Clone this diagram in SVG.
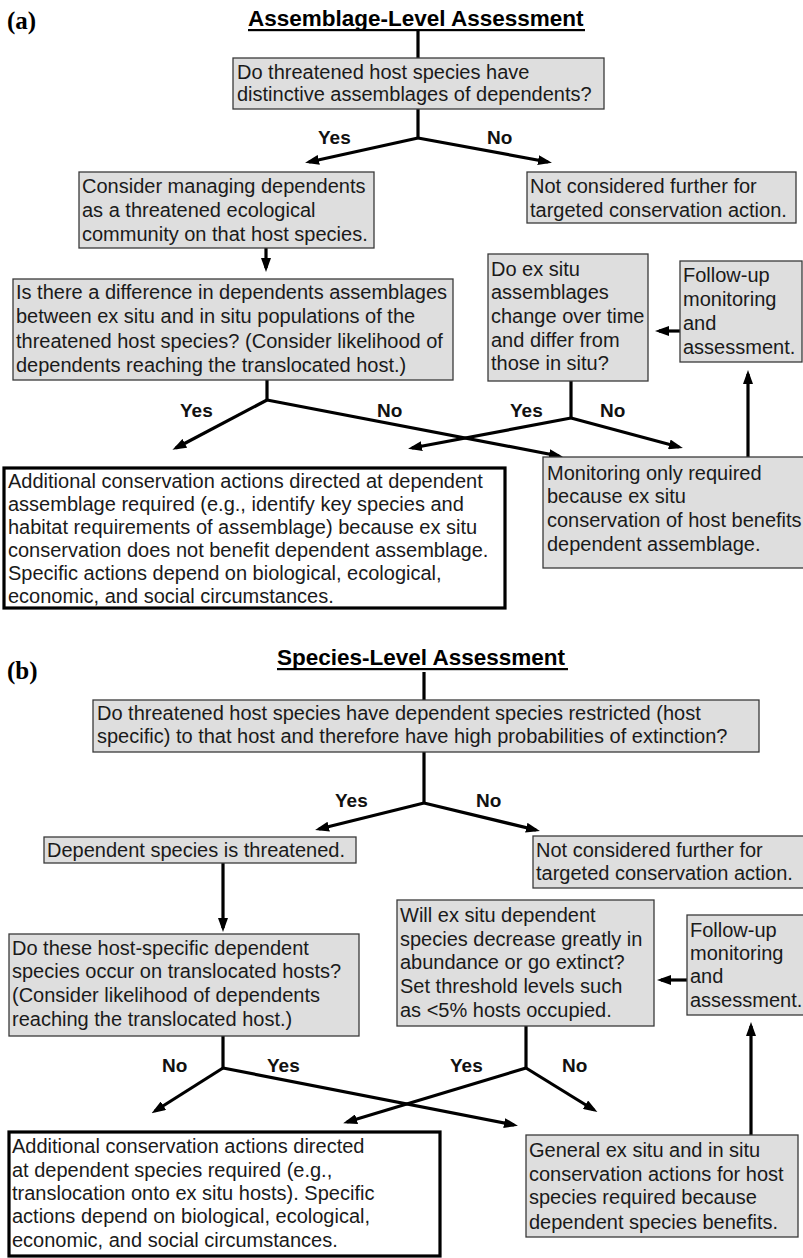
<svg xmlns="http://www.w3.org/2000/svg" width="803" height="1258" viewBox="0 0 803 1258">
<style>
.bg{fill:#fff}
.box{fill:#dedede;stroke:#3a3a3a;stroke-width:1.3}
.tbox{fill:#fff;stroke:#000;stroke-width:3.2}
.t{font-family:"Liberation Sans",Arial,sans-serif;font-size:20px;fill:#1a1a1a}
.lbl{font-family:"Liberation Sans",Arial,sans-serif;font-size:19px;font-weight:bold;fill:#111}
.ttl{font-family:"Liberation Sans",Arial,sans-serif;font-size:22.5px;font-weight:bold;fill:#000}
.pl{font-family:"Liberation Serif","Times New Roman",serif;font-size:25px;font-weight:bold;fill:#000}
.c{fill:none;stroke:#000;stroke-width:3.2}
.a{marker-end:url(#ah)}
</style>
<defs>
<marker id="ah" viewBox="0 0 14 10" refX="10" refY="5" markerWidth="14" markerHeight="10" markerUnits="userSpaceOnUse" orient="auto">
<path d="M0,0 L14,5 L0,10 z" fill="#000"/>
</marker>
</defs>
<rect class="bg" x="0" y="0" width="803" height="1258"/>

<g id="panel-labels">
<text class="pl" x="7" y="29">(a)</text>
<text class="pl" x="7" y="679">(b)</text>
</g>

<g id="title-a">
<text class="ttl" x="248" y="26">Assemblage-Level Assessment</text>
<rect x="248" y="29" width="337" height="2.2" fill="#000"/>
</g>
<g id="title-b">
<text class="ttl" x="277" y="665">Species-Level Assessment</text>
<rect x="277" y="668" width="291" height="2.2" fill="#000"/>
</g>

<g id="connectors">
<!-- panel a -->
<path class="c" d="M418,31 V58"/>
<path class="c" d="M418,109 V138"/>
<path class="c a" d="M418,138 L309,162"/>
<path class="c a" d="M418,138 L548,162"/>
<path class="c a" d="M266,248 V268"/>
<path class="c" d="M267,380 V400"/>
<path class="c a" d="M267,400 L176,448"/>
<path class="c a" d="M267,400 L559,456"/>
<path class="c" d="M571,381 V418"/>
<path class="c a" d="M571,418 L412,448"/>
<path class="c a" d="M571,418 L679,447"/>
<path class="c a" d="M680,331 H659"/>
<path class="c a" d="M748,457 V374"/>
<!-- panel b -->
<path class="c" d="M424,672 V700"/>
<path class="c" d="M424,752 V803"/>
<path class="c a" d="M424,803 L319,829"/>
<path class="c a" d="M424,803 L536,830"/>
<path class="c a" d="M223,863 V928"/>
<path class="c" d="M223,1036 V1068"/>
<path class="c a" d="M223,1068 L155,1111"/>
<path class="c a" d="M223,1068 L514,1125"/>
<path class="c" d="M526,1026 V1068"/>
<path class="c a" d="M526,1068 L347,1122"/>
<path class="c a" d="M526,1068 L594,1110"/>
<path class="c a" d="M687,980 H661"/>
<path class="c a" d="M751,1135 V1026"/>
</g>

<g id="labels">
<text class="lbl" x="318" y="144">Yes</text>
<text class="lbl" x="487" y="144">No</text>
<text class="lbl" x="180" y="417">Yes</text>
<text class="lbl" x="377" y="417">No</text>
<text class="lbl" x="510" y="417">Yes</text>
<text class="lbl" x="600" y="417">No</text>
<text class="lbl" x="335" y="807">Yes</text>
<text class="lbl" x="476" y="807">No</text>
<text class="lbl" x="162" y="1072">No</text>
<text class="lbl" x="267" y="1072">Yes</text>
<text class="lbl" x="450" y="1072">Yes</text>
<text class="lbl" x="562" y="1072">No</text>
</g>

<g id="a-q1">
<rect class="box" x="233" y="58" width="371" height="51"/>
<text class="t" x="237" y="79">Do threatened host species have</text>
<text class="t" x="237" y="101">distinctive assemblages of dependents?</text>
</g>
<g id="a-notconsidered">
<rect class="box" x="527" y="172" width="269" height="51"/>
<text class="t" x="530" y="193">Not considered further for</text>
<text class="t" x="530" y="217">targeted conservation action.</text>
</g>
<g id="a-consider">
<rect class="box" x="79" y="172" width="295" height="76"/>
<text class="t" x="82" y="193">Consider managing dependents</text>
<text class="t" x="82" y="217">as a threatened ecological</text>
<text class="t" x="82" y="241">community on that host species.</text>
</g>
<g id="a-q2">
<rect class="box" x="13" y="279" width="440" height="101"/>
<text class="t" x="16" y="299">Is there a difference in dependents assemblages</text>
<text class="t" x="16" y="323">between ex situ and in situ populations of the</text>
<text class="t" x="16" y="348">threatened host species? (Consider likelihood of</text>
<text class="t" x="16" y="372">dependents reaching the translocated host.)</text>
</g>
<g id="a-q3">
<rect class="box" x="488" y="254" width="160" height="127"/>
<text class="t" x="491" y="276">Do ex situ</text>
<text class="t" x="491" y="299">assemblages</text>
<text class="t" x="491" y="323">change over time</text>
<text class="t" x="491" y="347">and differ from</text>
<text class="t" x="491" y="370">those in situ?</text>
</g>
<g id="a-followup">
<rect class="box" x="680" y="261" width="122" height="101"/>
<text class="t" x="683" y="282">Follow-up</text>
<text class="t" x="683" y="306">monitoring</text>
<text class="t" x="683" y="330">and</text>
<text class="t" x="683" y="354">assessment.</text>
</g>
<g id="a-additional">
<rect class="tbox" x="4" y="468" width="501" height="140"/>
<text class="t" x="8" y="488">Additional conservation actions directed at dependent</text>
<text class="t" x="8" y="511">assemblage required (e.g., identify key species and</text>
<text class="t" x="8" y="534">habitat requirements of assemblage) because ex situ</text>
<text class="t" x="8" y="557">conservation does not benefit dependent assemblage.</text>
<text class="t" x="8" y="580">Specific actions depend on biological, ecological,</text>
<text class="t" x="8" y="603">economic, and social circumstances.</text>
</g>
<g id="a-monitoring">
<rect class="box" x="543" y="457" width="264" height="111"/>
<text class="t" x="547" y="480">Monitoring only required</text>
<text class="t" x="547" y="503">because ex situ</text>
<text class="t" x="547" y="527">conservation of host benefits</text>
<text class="t" x="547" y="551">dependent assemblage.</text>
</g>

<g id="b-q1">
<rect class="box" x="93" y="700" width="666" height="52"/>
<text class="t" x="97" y="720">Do threatened host species have dependent species restricted (host</text>
<text class="t" x="97" y="743">specific) to that host and therefore have high probabilities of extinction?</text>
</g>
<g id="b-notconsidered">
<rect class="box" x="533" y="836" width="273" height="52"/>
<text class="t" x="536" y="857">Not considered further for</text>
<text class="t" x="536" y="880">targeted conservation action.</text>
</g>
<g id="b-dependent">
<rect class="box" x="44" y="837" width="312" height="26"/>
<text class="t" x="47" y="857">Dependent species is threatened.</text>
</g>
<g id="b-q2">
<rect class="box" x="9" y="934" width="350" height="102"/>
<text class="t" x="12" y="955">Do these host-specific dependent</text>
<text class="t" x="12" y="978">species occur on translocated hosts?</text>
<text class="t" x="12" y="1002">(Consider likelihood of dependents</text>
<text class="t" x="12" y="1026">reaching the translocated host.)</text>
</g>
<g id="b-q3">
<rect class="box" x="397" y="900" width="257" height="126"/>
<text class="t" x="400" y="922">Will ex situ dependent</text>
<text class="t" x="400" y="946">species decrease greatly in</text>
<text class="t" x="400" y="969">abundance or go extinct?</text>
<text class="t" x="400" y="993">Set threshold levels such</text>
<text class="t" x="400" y="1017">as &lt;5% hosts occupied.</text>
</g>
<g id="b-followup">
<rect class="box" x="687" y="915" width="119" height="100"/>
<text class="t" x="690" y="937">Follow-up</text>
<text class="t" x="690" y="960">monitoring</text>
<text class="t" x="690" y="983">and</text>
<text class="t" x="690" y="1007">assessment.</text>
</g>
<g id="b-additional">
<rect class="tbox" x="9" y="1132" width="431" height="124"/>
<text class="t" x="12" y="1153">Additional conservation actions directed</text>
<text class="t" x="12" y="1177">at dependent species required (e.g.,</text>
<text class="t" x="12" y="1200">translocation onto ex situ hosts). Specific</text>
<text class="t" x="12" y="1223">actions depend on biological, ecological,</text>
<text class="t" x="12" y="1247">economic, and social circumstances.</text>
</g>
<g id="b-general">
<rect class="box" x="526" y="1135" width="272" height="102"/>
<text class="t" x="529" y="1157">General ex situ and in situ</text>
<text class="t" x="529" y="1181">conservation actions for host</text>
<text class="t" x="529" y="1204">species required because</text>
<text class="t" x="529" y="1229">dependent species benefits.</text>
</g>
</svg>
